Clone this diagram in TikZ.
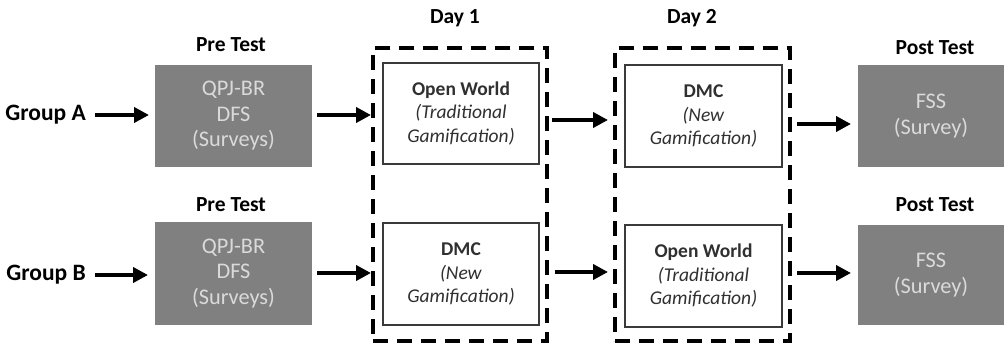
\documentclass[tikz,border=0pt]{standalone}
\usepackage{fontspec}
\setmainfont{Carlito}
\usetikzlibrary{arrows.meta}
\definecolor{boxgrey}{HTML}{808080}
\definecolor{boxtext}{HTML}{DADADA}
\definecolor{inktext}{HTML}{303030}
\definecolor{framegrey}{HTML}{3A3A3A}
\tikzset{
  testbox/.style={rectangle, fill=boxgrey, draw=none, text=boxtext, align=center,
    font=\fontsize{22.3}{25.5}\selectfont, inner sep=0pt, outer sep=0pt},
  gamebox/.style={rectangle, draw=framegrey, line width=1.1pt, fill=white, text=inktext,
    align=center, font=\fontsize{19.5}{23.5}\selectfont, inner sep=0pt, outer sep=0pt},
  daybox/.style={rectangle, draw=black, line width=4pt, dash pattern=on 15pt off 9pt,
    inner sep=0pt, outer sep=0pt},
  heading/.style={font=\bfseries\fontsize{21.5}{25}\selectfont, text=black, inner sep=0pt},
  grouplabel/.style={font=\bfseries\fontsize{23.5}{27}\selectfont, text=black, inner sep=0pt},
  flow/.style={line width=4.5pt, -{Triangle[length=15pt,width=15pt]}},
}
\begin{document}
\begin{tikzpicture}[x=1pt,y=-1pt]
\useasboundingbox (0,0) rectangle (1006,344);
\begin{scope}
\clip (0,0) rectangle (1006,344);

% dashed day frames
\node[daybox, minimum width=174pt, minimum height=293pt] (day1) at (460,194.5) {};
\node[daybox, minimum width=175pt, minimum height=293pt] (day2) at (702.5,194.5) {};

% pre-test boxes
\node[testbox, minimum width=157pt, minimum height=102pt] (preA) at (233.5,116) {QPJ-BR\\DFS\\(Surveys)};
\node[testbox, minimum width=157pt, minimum height=103pt] (preB) at (233.5,273.5) {QPJ-BR\\DFS\\(Surveys)};

% gamification sessions
\node[gamebox, minimum width=156pt, minimum height=101pt] (d1A) at (461,113.5)
  {\textbf{Open World}\\\textit{(Traditional}\\\textit{Gamification)}};
\node[gamebox, minimum width=156pt, minimum height=102pt] (d1B) at (461,274)
  {\textbf{DMC}\\\textit{(New}\\\textit{Gamification)}};
\node[gamebox, minimum width=157pt, minimum height=102pt] (d2A) at (703.5,116)
  {\textbf{DMC}\\\textit{(New}\\\textit{Gamification)}};
\node[gamebox, minimum width=157pt, minimum height=102pt] (d2B) at (703.5,276)
  {\textbf{Open World}\\\textit{(Traditional}\\\textit{Gamification)}};

% post-test boxes
\node[testbox, minimum width=146pt, minimum height=102pt] (postA) at (931,116) {FSS\\(Survey)};
\node[testbox, minimum width=146pt, minimum height=100pt] (postB) at (931,275) {FSS\\(Survey)};

% headings
\node[heading] (preAhd) at (231,45) {Pre Test};
\node[heading] (preBhd) at (231,205) {Pre Test};
\node[heading] (day1hd) at (455,18) {Day 1};
\node[heading] (day2hd) at (692,18) {Day 2};
\node[heading] (postAhd) at (935,48) {Post Test};
\node[heading] (postBhd) at (935,205) {Post Test};

% group labels
\node[grouplabel, anchor=east] (grpA) at (86,115) {Group A};
\node[grouplabel, anchor=east] (grpB) at (86,275) {Group B};

% flow arrows, group A
\draw[flow] ([xshift=9pt]grpA.east) -- ([xshift=-6pt]preA.west |- grpA.east);
\draw[flow] ([xshift=5pt]preA.east |- 0,115) -- ([xshift=-2pt]day1.west |- 0,115);
\draw[flow] ([xshift=5pt]day1.east |- 0,120) -- ([xshift=-7pt]day2.west |- 0,120);
\draw[flow] ([xshift=7pt]day2.east |- 0,124) -- ([xshift=-7pt]postA.west |- 0,124);

% flow arrows, group B
\draw[flow] ([xshift=9pt]grpB.east) -- ([xshift=-7pt]preB.west |- grpB.east);
\draw[flow] ([xshift=5pt]preB.east |- 0,273) -- ([xshift=-2pt]day1.west |- 0,273);
\draw[flow] ([xshift=8pt]day1.east |- 0,272) -- ([xshift=-7pt]day2.west |- 0,272);
\draw[flow] ([xshift=7pt]day2.east |- 0,273) -- ([xshift=-7pt]postB.west |- 0,273);
\end{scope}
\end{tikzpicture}
\end{document}
